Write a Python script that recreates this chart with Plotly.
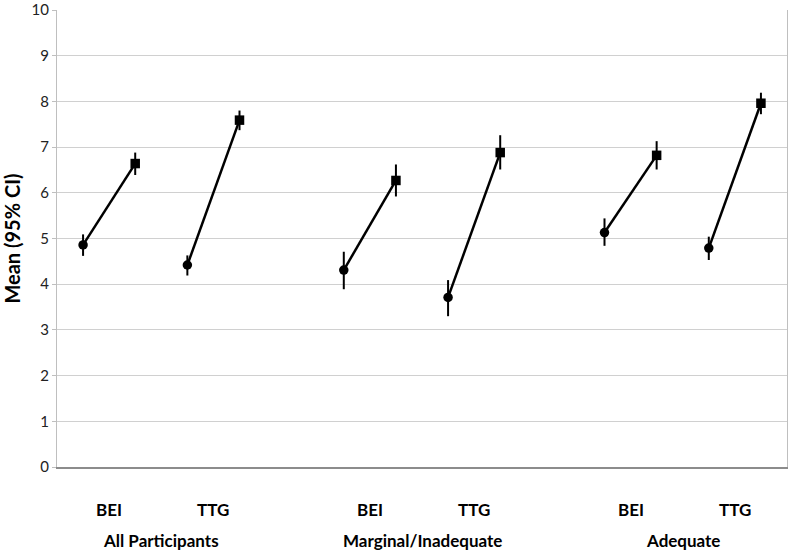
import plotly.graph_objects as go

# Mean (95% CI); pre = circle, post = square
groups = ["All Participants", "Marginal/Inadequate", "Adequate"]
measures = ["BEI", "TTG"]

pre_mean = [4.86, 4.42, 4.31, 3.71, 5.13, 4.79]
pre_lo = [4.62, 4.19, 3.89, 3.30, 4.84, 4.53]
pre_hi = [5.09, 4.63, 4.71, 4.09, 5.44, 5.04]

post_mean = [6.64, 7.59, 6.27, 6.88, 6.82, 7.96]
post_lo = [6.39, 7.37, 5.92, 6.51, 6.51, 7.72]
post_hi = [6.88, 7.80, 6.62, 7.26, 7.13, 8.19]

yticks = list(range(0, 11))

fig = go.Figure()

label_font = dict(family="Lato, Open Sans, sans-serif", size=17, color="#000000")

for gi, group in enumerate(groups):
    for mi, measure in enumerate(measures):
        k = gi * 2 + mi
        slot = gi * 5 + mi * 2  # one empty slot between groups
        xs = [slot + 0.5, slot + 1.5]
        ys = [pre_mean[k], post_mean[k]]
        fig.add_trace(go.Scatter(
            x=xs, y=ys,
            mode="lines+markers",
            line=dict(color="black", width=2.5),
            marker=dict(symbol=["circle", "square"], size=9.5, color="black"),
            error_y=dict(
                type="data", symmetric=False,
                array=[pre_hi[k] - pre_mean[k], post_hi[k] - post_mean[k]],
                arrayminus=[pre_mean[k] - pre_lo[k], post_mean[k] - post_lo[k]],
                color="black", thickness=2, width=0,
            ),
            showlegend=False,
            hoverinfo="skip",
        ))
        fig.add_annotation(
            x=slot + 1.0, y=-0.094, xref="x", yref="paper",
            text="<b>%s</b>" % measure, showarrow=False,
            font=label_font, yanchor="middle",
        )
    fig.add_annotation(
        x=gi * 5 + 2.0, y=-0.16, xref="x", yref="paper",
        text="<b>%s</b>" % group, showarrow=False,
        font=label_font, yanchor="middle",
    )

fig.update_layout(
    width=800, height=557,
    margin=dict(l=57, r=13, t=10, b=90),
    plot_bgcolor="white", paper_bgcolor="white",
    font=dict(family="Lato, Open Sans, sans-serif", color="#000000"),
    xaxis=dict(
        range=[0, 14], showticklabels=False, showgrid=False, zeroline=False,
        showline=True, linecolor="#8c8c8c", linewidth=1.5, mirror=False,
        automargin=False,
    ),
    yaxis=dict(
        range=[0, 10], tickvals=yticks, showgrid=True, gridcolor="#d0d0d0",
        gridwidth=1, zeroline=False, showline=True, linecolor="#bfbfbf",
        linewidth=1, mirror=True, ticks="outside", ticklen=4, tickcolor="#bfbfbf",
        tickfont=dict(size=15, color="#222222"), automargin=False,
        title=dict(text="<b>Mean (95% CI)</b>", font=dict(size=20), standoff=6),
    ),
)

# drop the default 8px body margin so the figure sits at the window's corner
fig.write_html(
    "out.html",
    config={"displayModeBar": False},
    post_script="document.body.style.margin = '0';",
)
